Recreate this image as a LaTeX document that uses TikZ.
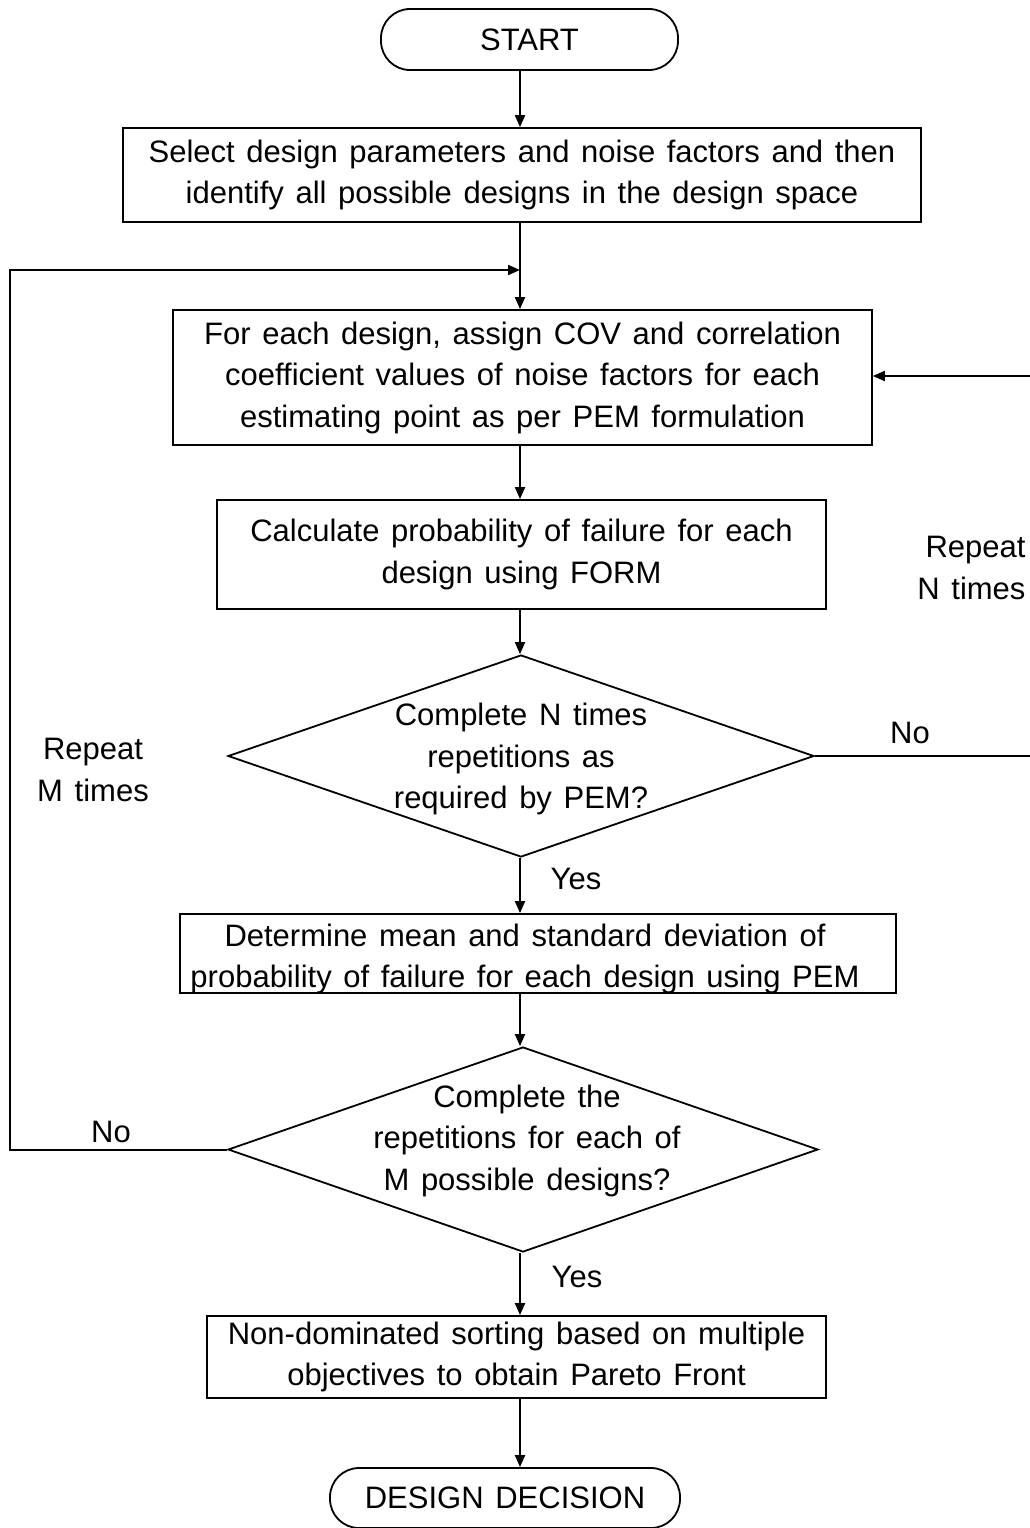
\documentclass[tikz,border=0pt]{standalone}
\usepackage{fontspec}
\setmainfont[WordSpace=1.35]{Liberation Sans}
\usetikzlibrary{shapes.geometric,arrows.meta}
\begin{document}
\begin{tikzpicture}[x=1pt,y=-1pt,
  every node/.style={font=\fontsize{31}{41.5}\selectfont, align=center},
  procbox/.style={draw, line width=1.8pt, inner sep=0pt},
  term/.style={draw, line width=1.8pt, rounded corners=29pt, inner sep=0pt},
  dec/.style={draw, diamond, line width=1.8pt, inner sep=0pt},
  flow/.style={line width=2pt, -{Triangle[length=12pt,width=10pt]}},
  link/.style={line width=2pt}]
\useasboundingbox (0,0) rectangle (1029,1528);

% main vertical spine of the chart
\coordinate (spine) at (520,0);

% terminals and process steps
\node[term, minimum width=297pt, minimum height=61pt] (start) at (529.5,39.5) {START};
\node[procbox, minimum width=798pt, minimum height=94pt] (b1) at (522,175)
  {Select design parameters and noise factors and then\\identify all possible designs in the design space};
\node[procbox, minimum width=699pt, minimum height=135pt] (b2) at (522.5,377.5)
  {For each design, assign COV and correlation\\coefficient values of noise factors for each\\estimating point as per PEM formulation};
\node[procbox, minimum width=609pt, minimum height=109pt] (b3) at (521.5,554.5)
  {Calculate probability of failure for each\\design using FORM};
\node[dec, minimum width=586pt, minimum height=202pt] (d1) at (521,756) {};
\node at (521,759) {Complete N times\\repetitions as\\required by PEM?};
\node[procbox, minimum width=716pt, minimum height=79pt] (b4) at (538,953.5) {};
\node at (525,959) {Determine mean and standard deviation of\\probability of failure for each design using PEM};
\node[dec, minimum width=590pt, minimum height=205pt] (d2) at (523,1149.5) {};
\node at (527,1140.5) {Complete the\\repetitions for each of\\M possible designs?};
\node[procbox, minimum width=619pt, minimum height=82pt] (b5) at (516.5,1357)
  {Non-dominated sorting based on multiple\\objectives to obtain Pareto Front};
\node[term, minimum width=350pt, minimum height=60pt] (end) at (505,1498) {DESIGN DECISION};

% junction where the outer loop re-enters
\coordinate (merge) at (520,270);

% main flow
\draw[flow] (start.south -| spine) -- (b1.north -| spine);
\draw[flow] (b1.south -| spine) -- (b2.north -| spine);
\draw[flow] (b2.south -| spine) -- (b3.north -| spine);
\draw[flow] (b3.south -| spine) -- (d1.north -| spine);
\draw[flow] (d1.south -| spine) -- (b4.north -| spine);
\draw[flow] (b4.south -| spine) -- (d2.north -| spine);
\draw[flow] (d2.south -| spine) -- (b5.north -| spine);
\draw[flow] (b5.south -| spine) -- (end.north -| spine);

% inner loop (N repetitions)
\draw[flow] (d1.east) -- (1034,756) -- (1034,376) -- (b2.east |- 0,376);
% outer loop (M designs)
\draw[flow] (d2.west) -- (10,1149.5) -- (10,270) -- (merge);

% branch labels
\node (no1) at (910,733) {No};
\node (yes1) at (576,879) {Yes};
\node (no2) at (111,1132) {No};
\node (yes2) at (577,1277) {Yes};
\node[anchor=east, align=right] (repN) at (1029,568) {Repeat\\N times};
\node (repM) at (93,770) {Repeat\\M times};
\end{tikzpicture}
\end{document}
